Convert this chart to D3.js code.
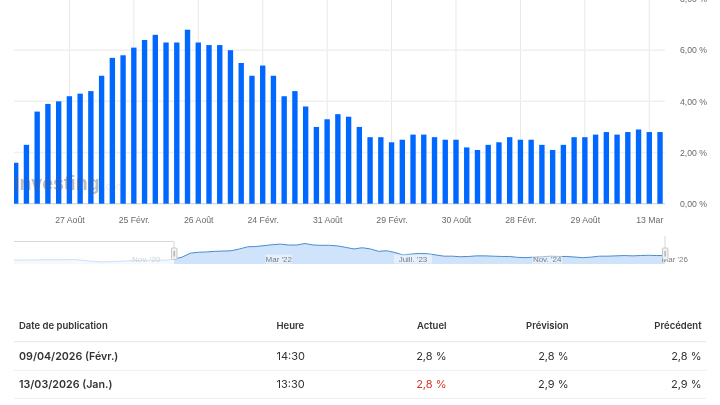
<!DOCTYPE html>
<html><head><meta charset="utf-8">
<script src="https://cdn.jsdelivr.net/npm/d3@7"></script>
<style>html,body{margin:0;padding:0;background:#fff;overflow:hidden}svg{display:block;filter:blur(0.35px)}</style>
</head><body><svg id="c" width="720" height="405"></svg>
<script>
const rates=[1.6,2.3,3.6,3.9,4.0,4.2,4.3,4.4,5.0,5.7,5.8,6.1,6.4,6.6,6.3,6.3,6.8,6.3,6.2,6.2,6.0,5.5,5.0,5.4,5.0,4.2,4.4,3.8,3.0,3.3,3.5,3.4,3.0,2.6,2.6,2.4,2.5,2.7,2.7,2.6,2.5,2.5,2.2,2.1,2.3,2.4,2.6,2.5,2.5,2.3,2.1,2.3,2.6,2.6,2.7,2.8,2.7,2.8,2.9,2.8,2.8];
const earlierRates=[1.3,1.3,1.35,1.35,1.4,1.4,1.4,1.45,1.45,1.2,0.9,0.7,0.75,0.85,1.0,1.1,1.2,1.25,1.25,1.3];
const xTickIndex=[5,11,17,23,29,35,41,47,53,59];
const xTickLabels=["27 Août","25 Févr.","26 Août","24 Févr.","31 Août","29 Févr.","30 Août","28 Févr.","29 Août","13 Mar"];
const yTicks=[0,2,4,6,8];
const navLabels=["Nov. '20","Mar '22","Juill. '23","Nov. '24","Mar '26"];
const navLabelIndex=[-3.4,12.8,29.2,45.6,61.2];
const tableHead=["Date de publication","Heure","Actuel","Prévision","Précédent"];
const tableRows=[["09/04/2026 (Févr.)","14:30","2,8 %","2,8 %","2,8 %"],["13/03/2026 (Jan.)","13:30","2,8 %","2,9 %","2,9 %"]];

const svg=d3.select("#c");
const sans="'Liberation Sans',Arial,sans-serif", inter="Inter,sans-serif";
const idx=d3.range(rates.length);
const x=d3.scaleBand().domain(idx).range([10.33,665.4]).paddingInner(0.5).paddingOuter(0.25);
const cx=i=>x(i)+x.bandwidth()/2;
const y=d3.scaleLinear().domain([0,8]).range([203.7,-1]);
const L=14,R=665;

const defs=svg.append("defs");
defs.append("clipPath").attr("id","plot").append("rect").attr("x",L).attr("y",-5).attr("width",R-L).attr("height",209);
defs.append("clipPath").attr("id","nav").append("rect").attr("x",L).attr("y",236).attr("width",R-L).attr("height",30);

// grid
const g=svg.append("g");
g.selectAll(".v").data(xTickIndex).join("line").attr("x1",cx).attr("x2",cx).attr("y1",0).attr("y2",203.7)
 .attr("stroke","#e8e8e8").attr("stroke-width",1);
g.selectAll(".h").data(yTicks.slice(1)).join("line").attr("x1",L).attr("x2",R).attr("y1",y).attr("y2",y)
 .attr("stroke","#f0f0f0").attr("stroke-width",1.5);

// bars
svg.append("g").attr("clip-path","url(#plot)").selectAll("rect").data(rates).join("rect")
 .attr("x",(d,i)=>x(i)).attr("width",x.bandwidth()).attr("y",d=>y(d)).attr("height",d=>y(0)-y(d)).attr("fill","#0068ff");

g.append("line").attr("x1",L).attr("x2",R).attr("y1",y(0)).attr("y2",y(0)).attr("stroke","#d8d8d8").attr("stroke-width",1.2);

// axes
const xAxis=d3.axisBottom(d3.scalePoint().domain(xTickIndex).range([cx(xTickIndex[0]),cx(xTickIndex[9])])).tickSize(0).tickFormat((d,i)=>xTickLabels[i]);
const ax=svg.append("g").attr("transform","translate(0,220)").call(xAxis);
ax.select(".domain").remove();
ax.selectAll("text").attr("y",0).attr("dy","0.35em").attr("font-family",sans).attr("font-size",8.7).attr("fill","#6a6a6a");
const yAxis=d3.axisRight(y).tickValues(yTicks).tickSize(0).tickFormat(d=>d3.format(".2f")(d).replace(".",",")+" %");
const ay=svg.append("g").attr("transform","translate(680,0)").call(yAxis);
ay.select(".domain").remove();
ay.selectAll("text").attr("x",0).attr("font-family",sans).attr("font-size",8.7).attr("fill","#6a6a6a");

// watermark
const wm=svg.append("text").attr("x",14).attr("y",190).attr("font-family",sans).attr("font-weight",700);
wm.append("tspan").attr("font-size",19.5).attr("fill","#56606e").attr("fill-opacity",.4).text("Investing");
wm.append("tspan").attr("font-size",10).attr("fill","#5d6470").attr("fill-opacity",.14).attr("font-weight",400).attr("dx",3).text(".com");

// navigator
const nx=d3.scaleLinear().domain([0,rates.length-1]).range([174,665]);
const ny=d3.scaleLinear().domain([0,6.8]).range([264,243.5]);
const area=d3.area().x(d=>d[0]).y0(ny(0)).y1(d=>ny(d[1]));
const line=d3.line().x(d=>d[0]).y(d=>ny(d[1]));
const main=rates.map((d,i)=>[nx(i),d]);
const early=earlierRates.map((d,i)=>[nx(i-earlierRates.length),d]);
early.push(main[0]);
const ng=svg.append("g").attr("clip-path","url(#nav)");
ng.append("path").attr("d",area(early)).attr("fill","#cfe3fb").attr("fill-opacity",.22);
ng.append("path").attr("d",line(early)).attr("fill","none").attr("stroke","#4a8fd6").attr("stroke-opacity",.25);
ng.append("path").attr("d",area(main)).attr("fill","#cfe3fb");
ng.append("path").attr("d",line(main)).attr("fill","none").attr("stroke","#4a8ccf").attr("stroke-width",1);
const nl=svg.append("g").selectAll("g").data(navLabels).join("g");
nl.append("rect").attr("x",(d,i)=>nx(navLabelIndex[i])-d.length*1.9).attr("y",254.5).attr("width",d=>d.length*3.8).attr("height",9).attr("fill","#fff").attr("fill-opacity",(d,i)=>i==0||i==4?0:.45);
nl.append("text").attr("x",(d,i)=>nx(navLabelIndex[i])).attr("y",259.3).attr("dy","0.35em").attr("text-anchor","middle").attr("font-family",sans).attr("font-size",8)
 .attr("fill",(d,i)=>i==0?"#d2d2d2":"#7d7d7d").text(d=>d);
svg.append("path").attr("d","M14 241.5H174V248M665 236V248").attr("fill","none").attr("stroke","#d8d8d8");
[174,665].forEach(hx=>{
 svg.append("rect").attr("x",hx-2.5).attr("y",248).attr("width",5.5).attr("height",11.5).attr("rx",1).attr("fill","#f2f2f2").attr("stroke","#c8c8c8");
 svg.append("rect").attr("x",hx-.7).attr("y",251).attr("width",1.8).attr("height",5.5).attr("fill","#bbb");
});

// table
const colX=[19,276.5,446.5,568.5,701.5], anchors=["start","start","end","end","end"];
const th=svg.append("g");
tableHead.forEach((t,i)=>th.append("text").attr("x",colX[i]).attr("y",325.5).attr("dy","0.35em").attr("text-anchor",anchors[i]).attr("font-family",inter).attr("font-weight",600).attr("font-size",9.5).attr("fill","#333").text(t));
const rowY=[356,384.5], lineY=[341.7,370.3,398.3];
lineY.forEach((v,i)=>svg.append("line").attr("x1",14).attr("x2",706.5).attr("y1",v).attr("y2",v).attr("stroke",i==0?"#e8eaed":"#eceef0").attr("stroke-width",i==0?1.2:1));
tableRows.forEach((r,ri)=>r.forEach((t,i)=>svg.append("text").attr("x",colX[i]).attr("y",rowY[ri]).attr("dy","0.35em").attr("text-anchor",anchors[i]).attr("font-family",inter).attr("font-weight",i==0?600:400).attr("font-size",i==0?10.7:11).attr("fill",(ri==1&&i==2)?"#d9342b":"#333").text(t)));
</script></body></html>
